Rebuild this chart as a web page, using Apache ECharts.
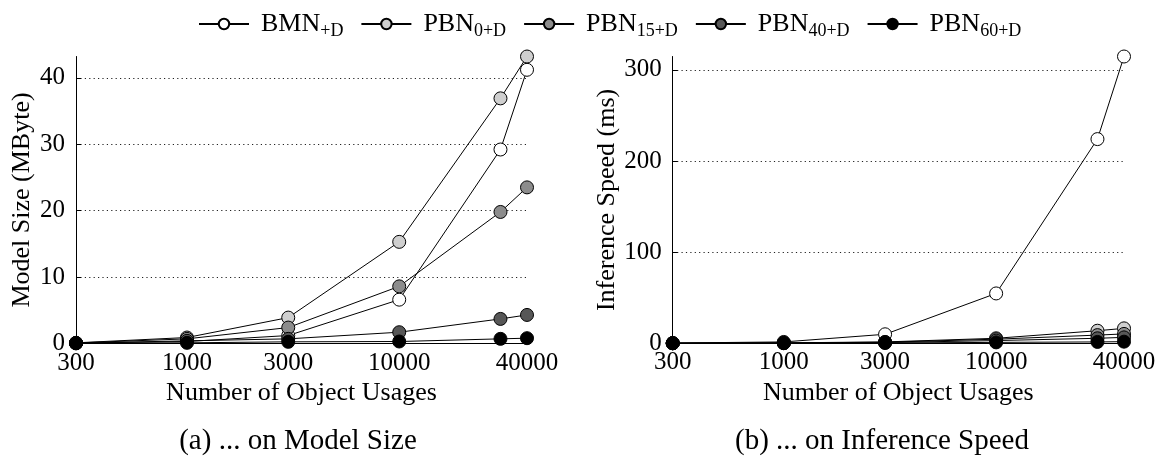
<!DOCTYPE html>
<html>
<head>
<meta charset="utf-8">
<script src="https://cdn.jsdelivr.net/npm/echarts@6/dist/echarts.min.js"></script>
<style>
html,body{margin:0;padding:0;background:#fff;}
#c{width:1170px;height:457px;}
</style>
</head>
<body>
<div id="c"></div>
<script>
// ---- data ----
const xValues = [300, 1000, 3000, 10000, 30000, 40000];
const xTicks = [300, 1000, 3000, 10000, 40000];
const seriesNames = ['BMN+D', 'PBN0+D', 'PBN15+D', 'PBN40+D', 'PBN60+D'];
const legendMain = ['BMN', 'PBN', 'PBN', 'PBN', 'PBN'];
const legendSub = ['+D', '0+D', '15+D', '40+D', '60+D'];

// (a) model size (MByte)
const sizeBMN   = [0.05, 0.3, 1.2, 6.6, 29.2, 41.2];
const sizePBN0  = [0.1, 0.9, 3.9, 15.3, 36.9, 43.2];
const sizePBN15 = [0.08, 0.7, 2.4, 8.6, 19.8, 23.5];
const sizePBN40 = [0.05, 0.4, 0.7, 1.7, 3.7, 4.3];
const sizePBN60 = [0.02, 0.1, 0.25, 0.3, 0.7, 0.8];

// (b) inference speed (ms)
const speedBMN   = [0.3, 1.5, 9.9, 54.7, 224, 314.6];
const speedPBN0  = [0.1, 0.5, 1.5, 5.5, 13.8, 16.4];
const speedPBN15 = [0.1, 0.4, 1.2, 4.5, 9.0, 10.3];
const speedPBN40 = [0.05, 0.2, 0.8, 3.0, 5.5, 6.5];
const speedPBN60 = [0.02, 0.1, 0.3, 1.0, 1.5, 1.8];

const sizeTicks = [0, 10, 20, 30, 40];
const speedTicks = [0, 100, 200, 300];

// ---- styling ----
const FONT = '"Liberation Serif", "DejaVu Serif", serif';
const fills = ['#ffffff', '#cfcfcf', '#8c8c8c', '#575757', '#000000'];

const sizeData = [sizeBMN, sizePBN0, sizePBN15, sizePBN40, sizePBN60];
const speedData = [speedBMN, speedPBN0, speedPBN15, speedPBN40, speedPBN60];

function pairs(arr) { return xValues.map((x, i) => [x, arr[i]]); }

const series = [];
[sizeData, speedData].forEach((set, gi) => {
  set.forEach((arr, si) => {
    series.push({
      name: seriesNames[si],
      type: 'line',
      xAxisIndex: gi,
      yAxisIndex: gi,
      data: pairs(arr),
      symbol: 'circle',
      symbolSize: 13,
      showSymbol: true,
      animation: false,
      z: 2 + si,
      lineStyle: { color: '#000', width: 1 },
      itemStyle: { color: fills[si], borderColor: '#000', borderWidth: 1 },
      emphasis: { disabled: true }
    });
  });
});

function xAxis(gi) {
  return {
    type: 'log',
    gridIndex: gi,
    logBase: 10,
    min: 300,
    max: 40000,
    name: 'Number of Object Usages',
    nameLocation: 'middle',
    nameGap: 32,
    nameTextStyle: { fontFamily: FONT, fontSize: 26, color: '#000' },
    axisLine: { show: true, lineStyle: { color: '#000', width: 1 } },
    axisTick: { show: true, inside: true, length: 5, customValues: xTicks, lineStyle: { color: '#000' } },
    axisLabel: { customValues: xTicks, fontFamily: FONT, fontSize: 25, color: '#000', margin: 7,
                 formatter: v => String(Math.round(v)) },
    splitLine: { show: false },
    minorTick: { show: false },
    minorSplitLine: { show: false }
  };
}

function yAxis(gi, name, max, interval, gap, ticks) {
  return {
    type: 'value',
    gridIndex: gi,
    min: 0,
    max: max,
    interval: interval,
    name: name,
    nameLocation: 'middle',
    nameGap: gap,
    nameTextStyle: { fontFamily: FONT, fontSize: 26, color: '#000' },
    axisLine: { show: true, lineStyle: { color: '#000', width: 1 } },
    axisTick: { show: true, inside: true, length: 5, customValues: ticks, lineStyle: { color: '#000' } },
    axisLabel: { fontFamily: FONT, fontSize: 25, color: '#000', margin: 11, customValues: ticks },
    splitLine: { show: true, showMinLine: false,
                 lineStyle: { color: '#222', width: 1.2, type: [1.2, 3.2] } }
  };
}

const option = {
  backgroundColor: '#fff',
  animation: false,
  legend: {
    data: seriesNames,
    left: 193,
    top: 3,
    itemWidth: 50,
    itemHeight: 13,
    itemGap: 17,
    selectedMode: false,
    formatter: function (name) {
      const i = seriesNames.indexOf(name);
      return '{m|' + legendMain[i] + '}{s|' + legendSub[i] + '}';
    },
    textStyle: {
      color: '#000',
      rich: {
        m: { fontFamily: FONT, fontSize: 26, lineHeight: 30, color: '#000', padding: [0, 0, 0, 7] },
        s: { fontFamily: FONT, fontSize: 18, lineHeight: 16, color: '#000', padding: [14, 0, 0, 0] }
      }
    }
  },
  title: [
    { text: '(a) ... on Model Size', left: 293, top: 422, textAlign: 'center',
      textStyle: { fontFamily: FONT, fontSize: 29, fontWeight: 'normal', color: '#000' } },
    { text: '(b) ... on Inference Speed', left: 877, top: 422, textAlign: 'center',
      textStyle: { fontFamily: FONT, fontSize: 29, fontWeight: 'normal', color: '#000' } }
  ],
  grid: [
    { left: 76, right: 643, top: 56.5, bottom: 113.5, containLabel: false },
    { left: 672.7, right: 46, top: 56.5, bottom: 113.7, containLabel: false }
  ],
  xAxis: [xAxis(0), xAxis(1)],
  yAxis: [
    yAxis(0, 'Model Size (MByte)', 43.2, 10, 41, sizeTicks),
    yAxis(1, 'Inference Speed (ms)', 314.6, 100, 53, speedTicks)
  ],
  series: series
};

const chart = echarts.init(document.getElementById('c'), null, { renderer: 'canvas' });
chart.setOption(option);
</script>
</body>
</html>
